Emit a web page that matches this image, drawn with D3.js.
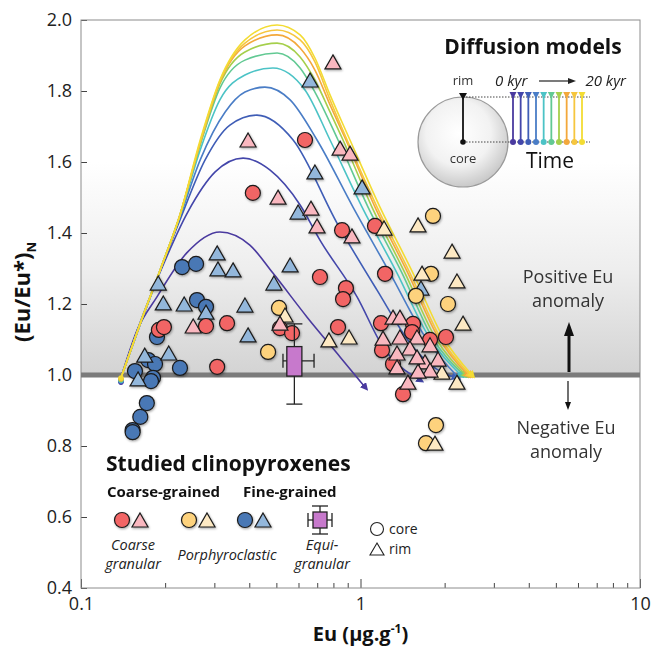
<!DOCTYPE html>
<html>
<head>
<meta charset="utf-8">
<script src="https://cdn.jsdelivr.net/npm/d3@7"></script>
<style>
  body { margin: 0; background: #fff; }
  svg { font-family: "Open Sans", Lato, sans-serif; }
</style>
</head>
<body>
<div id="chart"></div>
<script>
// axis ticks
const xMajor = [0.1, 1, 10];
const xMinor = [0.2, 0.3, 0.4, 0.5, 0.6, 0.7, 0.8, 0.9, 2, 3, 4, 5, 6, 7, 8, 9];
const yTicks = [0.4, 0.6, 0.8, 1.0, 1.2, 1.4, 1.6, 1.8, 2.0];

// studied clinopyroxenes: [Eu (ug/g), (Eu/Eu*)N]
const coarseCore = [[0.633,1.662],[0.412,1.513],[0.859,1.408],[1.127,1.420],[0.716,1.276],[1.224,1.285],[0.887,1.245],[0.866,1.214],[0.515,1.132],[0.569,1.118],[0.831,1.135],[0.190,1.127],[0.198,1.135],[0.280,1.138],[0.333,1.146],[0.307,1.023],[1.184,1.146],[1.541,1.144],[2.022,1.107],[1.194,1.070],[1.529,1.121],[1.773,1.099],[1.307,1.031],[1.419,0.946]];
const coarseRim = [[0.797,1.882],[0.396,1.662],[0.845,1.639],[0.917,1.625],[0.507,1.501],[0.665,1.470],[0.699,1.420],[0.932,1.392],[0.252,1.138],[0.515,1.146],[1.307,1.163],[1.384,1.163],[1.204,1.104],[1.384,1.107],[1.593,1.107],[1.773,1.085],[1.503,1.076],[1.351,1.062],[1.894,1.045],[1.701,1.037],[1.351,1.023],[1.773,1.014],[1.606,1.011],[1.478,0.980],[1.593,1.051]];
const porphCore = [[1.817,1.448],[1.787,1.285],[1.579,1.223],[2.056,1.200],[0.511,1.189],[0.467,1.065],[1.862,0.859],[1.715,0.808]];
const porphRim = [[1.214,1.414],[1.606,1.423],[2.126,1.349],[1.660,1.287],[2.214,1.265],[2.327,1.146],[0.537,1.169],[0.771,1.099],[0.910,1.107],[1.957,1.008],[2.214,0.980],[1.847,0.808]];
const fineCore = [[0.230,1.304],[0.258,1.313],[0.260,1.211],[0.280,1.192],[0.187,1.107],[0.174,1.042],[0.184,1.031],[0.226,1.020],[0.156,1.011],[0.181,0.992],[0.178,0.983],[0.172,0.921],[0.163,0.882],[0.153,0.845],[0.153,0.839]];
const fineRim = [[0.660,1.831],[0.687,1.572],[1.013,1.530],[0.598,1.459],[0.560,1.310],[0.490,1.259],[0.307,1.344],[0.309,1.299],[0.350,1.296],[0.189,1.259],[0.197,1.203],[0.234,1.200],[0.280,1.177],[0.386,1.197],[0.396,1.113],[0.206,1.062],[0.169,1.056],[0.160,0.989],[1.646,1.245]];

// equigranular summary: min, q1, median, q3, max
const equiX = [0.528, 0.545, 0.58, 0.617, 0.682];
const equiY = [0.918, 0.997, 1.04, 1.08, 1.144];

// diffusion models, 0 kyr -> 20 kyr
const modelColors = ["#4a3a9f", "#4346aa", "#3f5db6", "#4a7dc6", "#4cc3c6", "#62c993", "#a5cf4b", "#f3a83b", "#f6c63e", "#f3dc33"];
const model1 = [[0.139,0.992],[0.159,1.127],[0.187,1.220],[0.239,1.344],[0.314,1.403],[0.402,1.366],[0.486,1.287],[0.644,1.163],[0.845,1.051],[1.038,0.966]];
const model2 = [[0.139,0.992],[0.163,1.149],[0.192,1.290],[0.241,1.459],[0.302,1.572],[0.380,1.611],[0.475,1.577],[0.608,1.479],[0.716,1.380],[0.972,1.220],[1.204,1.079],[1.633,0.986]];
const model3 = [[0.139,0.992],[0.163,1.144],[0.192,1.293],[0.226,1.437],[0.278,1.606],[0.341,1.704],[0.426,1.732],[0.574,1.662],[0.824,1.428],[1.146,1.239],[1.541,1.079],[1.973,1.006],[2.178,0.994]];
const model4 = [[0.139,0.992],[0.163,1.144],[0.192,1.296],[0.226,1.445],[0.267,1.606],[0.328,1.741],[0.386,1.797],[0.455,1.811],[0.560,1.775],[0.699,1.662],[0.940,1.473],[1.275,1.287],[1.729,1.099],[2.233,0.994]];
const model5 = [[0.139,0.992],[0.163,1.146],[0.192,1.296],[0.226,1.448],[0.267,1.634],[0.314,1.775],[0.386,1.845],[0.486,1.865],[0.633,1.803],[0.778,1.662],[1.013,1.473],[1.351,1.287],[1.758,1.107],[2.289,1.0]];
const model6 = [[0.139,0.992],[0.163,1.146],[0.192,1.296],[0.226,1.451],[0.267,1.648],[0.314,1.808],[0.386,1.887],[0.503,1.907],[0.608,1.865],[0.687,1.797],[0.831,1.662],[1.064,1.473],[1.408,1.287],[1.802,1.107],[2.346,1.0]];
const model7 = [[0.139,0.992],[0.163,1.146],[0.192,1.296],[0.226,1.451],[0.267,1.651],[0.314,1.820],[0.386,1.910],[0.503,1.935],[0.608,1.896],[0.687,1.831],[0.778,1.741],[0.866,1.662],[1.099,1.473],[1.443,1.287],[1.847,1.107],[2.385,1.0]];
const model8 = [[0.139,0.992],[0.163,1.146],[0.192,1.296],[0.226,1.451],[0.267,1.654],[0.314,1.825],[0.386,1.927],[0.503,1.958],[0.608,1.921],[0.687,1.859],[0.778,1.761],[0.887,1.662],[1.127,1.473],[1.478,1.287],[1.894,1.107],[2.424,1.0]];
const model9 = [[0.139,0.992],[0.163,1.146],[0.192,1.296],[0.226,1.451],[0.267,1.656],[0.314,1.828],[0.386,1.935],[0.503,1.972],[0.608,1.944],[0.687,1.882],[0.778,1.775],[0.902,1.656],[1.146,1.473],[1.503,1.287],[1.925,1.107],[2.465,1.0]];
const model10 = [[0.139,0.992],[0.163,1.146],[0.192,1.296],[0.226,1.451],[0.267,1.662],[0.314,1.831],[0.386,1.944],[0.503,1.986],[0.608,1.958],[0.687,1.893],[0.778,1.789],[0.917,1.662],[1.174,1.473],[1.541,1.287],[1.973,1.107],[2.505,1.0]];
const models = [model1, model2, model3, model4, model5, model6, model7, model8, model9, model10];

const colors = {
  coarseCore: "#f26565", coarseRim: "#f9b7bf",
  porphCore: "#fdd27d", porphRim: "#fde9c3",
  fineCore: "#4a78b5", fineRim: "#93b7db",
  equi: "#c779cc"
};

const W = 654, H = 651;
const margin = { top: 20, right: 14, bottom: 63, left: 81 };

const svg = d3.select("#chart").append("svg")
  .attr("width", W)
  .attr("height", H);
const defs = svg.append("defs");

const x = d3.scaleLog().domain([0.1, 10]).range([margin.left, W - margin.right]);
const y = d3.scaleLinear().domain([0.4, 2.0]).range([H - margin.bottom, margin.top]);

// background shading above 1.0
const grad = defs.append("linearGradient")
  .attr("id", "bgGrad")
  .attr("gradientUnits", "userSpaceOnUse")
  .attr("x1", 0).attr("x2", 0)
  .attr("y1", y(1.6)).attr("y2", y(1.0));
grad.append("stop").attr("offset", 0).attr("stop-color", "#ffffff");
grad.append("stop").attr("offset", 0.5).attr("stop-color", "#eeeeee");
grad.append("stop").attr("offset", 1).attr("stop-color", "#d3d3d3");

const rg = defs.append("radialGradient").attr("id", "grainGrad").attr("cx", "45%").attr("cy", "40%").attr("r", "60%");
rg.append("stop").attr("offset", 0).attr("stop-color", "#ffffff");
rg.append("stop").attr("offset", 0.6).attr("stop-color", "#f2f2f2");
rg.append("stop").attr("offset", 1).attr("stop-color", "#c9c9c9");

const shadow = defs.append("filter").attr("id", "shadow").attr("x", "-30%").attr("y", "-30%").attr("width", "170%").attr("height", "170%");
shadow.append("feDropShadow").attr("dx", 0.8).attr("dy", 1.2).attr("stdDeviation", 0.8)
  .attr("flood-color", "#000").attr("flood-opacity", 0.35);

modelColors.forEach((c, i) => {
  defs.append("marker")
    .attr("id", "arrow" + i)
    .attr("viewBox", "0 0 10 10")
    .attr("refX", 4).attr("refY", 5)
    .attr("markerWidth", 8).attr("markerHeight", 8)
    .attr("markerUnits", "userSpaceOnUse")
    .attr("orient", "auto")
    .append("path").attr("d", "M0,0L10,5L0,10Z").attr("fill", c);
});

svg.append("rect")
  .attr("x", x(0.1)).attr("y", y(2.0))
  .attr("width", x(10) - x(0.1)).attr("height", y(1.0) - y(2.0))
  .attr("fill", "url(#bgGrad)");

// axes
const yAxis = d3.axisLeft(y).tickValues(yTicks).tickSize(-6).tickPadding(9).tickFormat(d3.format(".1f"));
const gy = svg.append("g").attr("transform", `translate(${margin.left},0)`).call(yAxis);
gy.select(".domain").remove();

const gxMinor = svg.append("g").attr("transform", `translate(0,${y(0.4)})`)
  .call(d3.axisBottom(x).tickValues(xMinor).tickSize(-5).tickFormat(""));
gxMinor.select(".domain").remove();
const gx = svg.append("g").attr("transform", `translate(0,${y(0.4)})`)
  .call(d3.axisBottom(x).tickValues(xMajor).tickSize(-9).tickPadding(9).tickFormat(d => String(d)));
gx.select(".domain").remove();

svg.selectAll(".tick line").attr("stroke", "#444");
svg.selectAll(".tick text").attr("font-size", 18).attr("fill", "#222");
[gy, gx, gxMinor].forEach(g => g.attr("font-family", null));

svg.append("rect")
  .attr("x", x(0.1)).attr("y", y(2.0))
  .attr("width", x(10) - x(0.1)).attr("height", y(0.4) - y(2.0))
  .attr("fill", "none").attr("stroke", "#8c8c8c").attr("stroke-width", 1);

// Eu/Eu* = 1 line
svg.append("line")
  .attr("x1", x(0.1)).attr("x2", x(10))
  .attr("y1", y(1.0)).attr("y2", y(1.0))
  .attr("stroke", "#7b7b7b").attr("stroke-width", 5);

// axis titles
const xl = svg.append("text")
  .attr("x", x(1)).attr("y", 641)
  .attr("text-anchor", "middle")
  .attr("font-weight", "bold").attr("font-size", 20).attr("fill", "#111");
xl.append("tspan").text("Eu (µg.g");
xl.append("tspan").attr("font-size", 12).attr("dy", -8).text("-1");
xl.append("tspan").attr("dy", 8).text(")");

const yl = svg.append("text")
  .attr("transform", "translate(30,292) rotate(-90)")
  .attr("text-anchor", "middle")
  .attr("font-weight", "bold").attr("font-size", 22).attr("fill", "#111");
yl.append("tspan").text("(Eu/Eu*)");
yl.append("tspan").attr("font-size", 13).attr("dy", 6).text("N");

// diffusion model curves
const line = d3.line().x(d => x(d[0])).y(d => y(d[1])).curve(d3.curveMonotoneX);
const gm = svg.append("g");
models.forEach((m, i) => {
  gm.append("path")
    .attr("d", line(m))
    .attr("fill", "none")
    .attr("stroke", modelColors[i])
    .attr("stroke-width", 1.6)
    .attr("marker-end", `url(#arrow${i})`);
});
models.forEach((m, i) => {
  gm.append("circle")
    .attr("cx", x(m[0][0])).attr("cy", y(m[0][1]) + (9 - i) * 0.5)
    .attr("r", 2.6).attr("fill", modelColors[i]);
});

// data points
const triPath = (w, h) => `M0,${-h / 2}L${w / 2},${h / 2}L${-w / 2},${h / 2}Z`;
const gp = svg.append("g").attr("filter", "url(#shadow)");

function drawCircles(data, fill) {
  gp.append("g").selectAll("circle")
    .data(data)
    .join("circle")
    .attr("cx", d => x(d[0]))
    .attr("cy", d => y(d[1]))
    .attr("r", 7.5)
    .attr("fill", fill)
    .attr("stroke", "#1a1a1a")
    .attr("stroke-width", 1.2);
}
function drawTriangles(data, fill) {
  gp.append("g").selectAll("path")
    .data(data)
    .join("path")
    .attr("transform", d => `translate(${x(d[0])},${y(d[1])})`)
    .attr("d", triPath(16, 14))
    .attr("fill", fill)
    .attr("stroke", "#1a1a1a")
    .attr("stroke-width", 1.2);
}

drawCircles(fineCore, colors.fineCore);
drawTriangles(fineRim, colors.fineRim);
drawCircles(porphCore, colors.porphCore);
drawCircles(coarseCore, colors.coarseCore);
drawTriangles(porphRim, colors.porphRim);
drawTriangles(coarseRim, colors.coarseRim);

// equigranular box
function drawEqui(g, cx, cy, xs, ys, boxW, boxH) {
  const seg = (x1, y1, x2, y2) => g.append("line").attr("x1", x1).attr("y1", y1).attr("x2", x2).attr("y2", y2)
    .attr("stroke", "#222").attr("stroke-width", 1.3);
  seg(xs[0], cy, xs[1], cy);
  seg(cx, ys[0], cx, ys[1]);
  seg(xs[0], cy - 7, xs[0], cy + 7);
  seg(xs[1], cy - 7, xs[1], cy + 7);
  seg(cx - 8, ys[0], cx + 8, ys[0]);
  seg(cx - 8, ys[1], cx + 8, ys[1]);
  g.append("rect").attr("x", boxW[0]).attr("y", boxH[0]).attr("width", boxW[1] - boxW[0]).attr("height", boxH[1] - boxH[0])
    .attr("fill", colors.equi).attr("stroke", "#222").attr("stroke-width", 1.3);
}
drawEqui(svg.append("g"), x(equiX[2]), y(equiY[2]),
  [x(equiX[0]), x(equiX[4])], [y(equiY[0]), y(equiY[4])],
  [x(equiX[1]), x(equiX[3])], [y(equiY[3]), y(equiY[1])]);

// right annotation
const ann = svg.append("g").attr("font-size", 18).attr("fill", "#333").attr("text-anchor", "middle");
ann.append("text").attr("x", 568).attr("y", 283).text("Positive Eu");
ann.append("text").attr("x", 568).attr("y", 307).text("anomaly");
ann.append("text").attr("x", 566).attr("y", 434).text("Negative Eu");
ann.append("text").attr("x", 566).attr("y", 458).text("anomaly");
svg.append("line").attr("x1", 569).attr("x2", 569).attr("y1", y(1.0) - 3).attr("y2", 333).attr("stroke", "#111").attr("stroke-width", 3);
svg.append("path").attr("d", "M569,322L574,336L564,336Z").attr("fill", "#111");
svg.append("line").attr("x1", 568).attr("x2", 568).attr("y1", y(1.0) + 6).attr("y2", 404).attr("stroke", "#111").attr("stroke-width", 1.2);
svg.append("path").attr("d", "M568,410L571,402L565,402Z").attr("fill", "#111");

// diffusion models inset
const ins = svg.append("g");
ins.append("text").attr("x", 533).attr("y", 54).attr("text-anchor", "middle")
  .attr("font-weight", "bold").attr("font-size", 21).attr("fill", "#111").text("Diffusion models");
ins.append("circle").attr("cx", 463).attr("cy", 142).attr("r", 45)
  .attr("fill", "url(#grainGrad)").attr("stroke", "#9a9a9a").attr("stroke-width", 1.2);
ins.append("line").attr("x1", 463).attr("x2", 590).attr("y1", 97).attr("y2", 97)
  .attr("stroke", "#444").attr("stroke-width", 1).attr("stroke-dasharray", "1.5,1.5");
ins.append("line").attr("x1", 463).attr("x2", 590).attr("y1", 142).attr("y2", 142)
  .attr("stroke", "#444").attr("stroke-width", 1).attr("stroke-dasharray", "1.5,1.5");
ins.append("line").attr("x1", 463).attr("x2", 463).attr("y1", 97).attr("y2", 142).attr("stroke", "#111").attr("stroke-width", 1.8);
ins.append("path").attr("d", "M459,93L467,93L463,100Z").attr("fill", "#111");
ins.append("circle").attr("cx", 463).attr("cy", 142).attr("r", 2.8).attr("fill", "#111");
ins.append("text").attr("x", 463).attr("y", 85).attr("text-anchor", "middle").attr("font-size", 13).attr("fill", "#333").text("rim");
ins.append("text").attr("x", 463).attr("y", 163).attr("text-anchor", "middle").attr("font-size", 13).attr("fill", "#333").text("core");

const stemX = d3.scalePoint().domain(d3.range(modelColors.length)).range([513, 582]);
modelColors.forEach((c, i) => {
  const sx = stemX(i);
  ins.append("line").attr("x1", sx).attr("x2", sx).attr("y1", 94).attr("y2", 142).attr("stroke", c).attr("stroke-width", 1.8);
  ins.append("path").attr("d", `M${sx - 3.5},92L${sx + 3.5},92L${sx},99Z`).attr("fill", c);
  ins.append("circle").attr("cx", sx).attr("cy", 142).attr("r", 3).attr("fill", c);
});
ins.append("text").attr("x", 495).attr("y", 86).attr("font-style", "italic").attr("font-size", 15).attr("fill", "#222").text("0 kyr");
ins.append("text").attr("x", 626).attr("y", 86).attr("text-anchor", "end").attr("font-style", "italic").attr("font-size", 15).attr("fill", "#222").text("20 kyr");
ins.append("line").attr("x1", 539).attr("x2", 570).attr("y1", 81).attr("y2", 81).attr("stroke", "#222").attr("stroke-width", 1.2);
ins.append("path").attr("d", "M576,81L568,78L568,84Z").attr("fill", "#222");
ins.append("text").attr("x", 550).attr("y", 168).attr("text-anchor", "middle").attr("font-size", 21).attr("fill", "#111").text("Time");

// legend
const lg = svg.append("g").attr("fill", "#111");
lg.append("text").attr("x", 106).attr("y", 471).attr("font-weight", "bold").attr("font-size", 21).text("Studied clinopyroxenes");
lg.append("text").attr("x", 107).attr("y", 497).attr("font-weight", "bold").attr("font-size", 15).text("Coarse-grained");
lg.append("text").attr("x", 243).attr("y", 497).attr("font-weight", "bold").attr("font-size", 15).text("Fine-grained");

const lgSym = lg.append("g").attr("filter", "url(#shadow)");
const legendPairs = [
  [122, colors.coarseCore, colors.coarseRim],
  [189, colors.porphCore, colors.porphRim],
  [245, colors.fineCore, colors.fineRim]
];
legendPairs.forEach(([lx, cCore, cRim]) => {
  lgSym.append("circle").attr("cx", lx).attr("cy", 520).attr("r", 7.5)
    .attr("fill", cCore).attr("stroke", "#1a1a1a").attr("stroke-width", 1.2);
  lgSym.append("path").attr("transform", `translate(${lx + 18},520)`).attr("d", triPath(16, 14))
    .attr("fill", cRim).attr("stroke", "#1a1a1a").attr("stroke-width", 1.2);
});
drawEqui(lg.append("g"), 320, 520, [308, 332], [506, 534], [313, 327], [512, 528]);

const lgLab = lg.append("g").attr("font-style", "italic").attr("font-size", 14.5).attr("fill", "#222").attr("text-anchor", "middle");
function twoLine(lx, a, b) {
  lgLab.append("text").attr("x", lx).attr("y", 550).text(a);
  lgLab.append("text").attr("x", lx).attr("y", 569).text(b);
}
twoLine(133, "Coarse", "granular");
lgLab.append("text").attr("x", 227).attr("y", 560).text("Porphyroclastic");
twoLine(322, "Equi-", "granular");

lg.append("circle").attr("cx", 377).attr("cy", 529).attr("r", 6.5).attr("fill", "#fff").attr("stroke", "#222").attr("stroke-width", 1.1);
lg.append("path").attr("transform", "translate(377,549)").attr("d", triPath(14, 12)).attr("fill", "#fff").attr("stroke", "#222").attr("stroke-width", 1.1);
lg.append("text").attr("x", 389).attr("y", 534).attr("font-size", 14).attr("fill", "#222").text("core");
lg.append("text").attr("x", 389).attr("y", 554).attr("font-size", 14).attr("fill", "#222").text("rim");
</script>
</body>
</html>
